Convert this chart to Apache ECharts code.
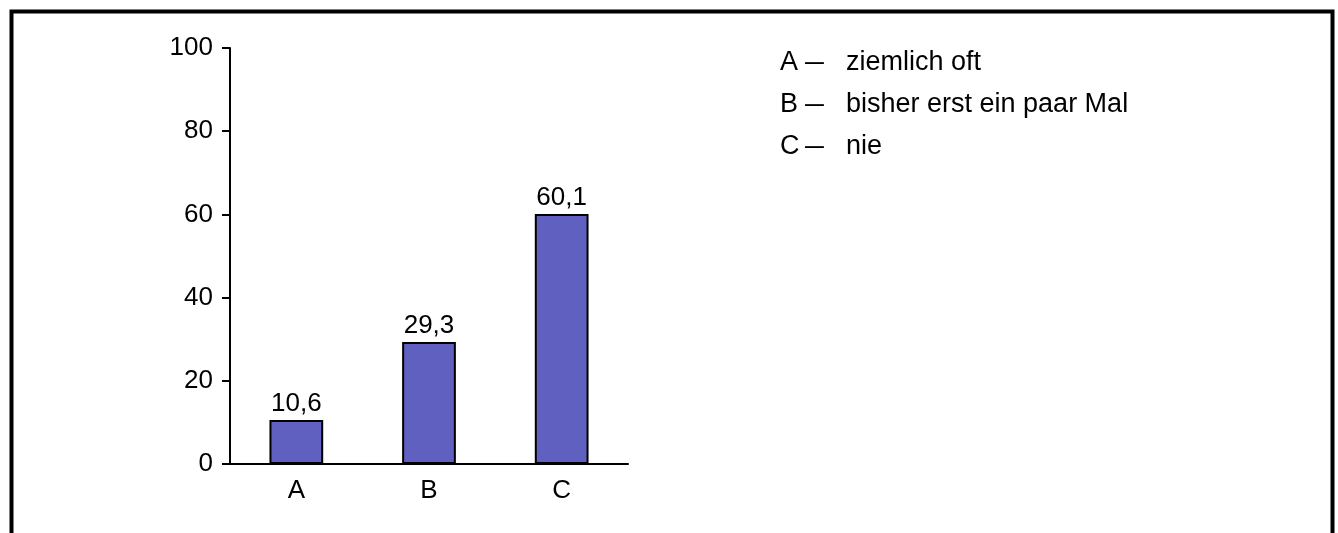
<!DOCTYPE html>
<html>
<head>
<meta charset="utf-8">
<script src="https://cdn.jsdelivr.net/npm/echarts@6/dist/echarts.min.js"></script>
<style>
html,body{margin:0;padding:0;background:#fff;}
#chart{width:1338px;height:533px;}
</style>
</head>
<body>
<div id="chart"></div>
<script>
const categories = ['A', 'B', 'C'];
const values = [10.6, 29.3, 60.1];
const descriptions = ['ziemlich oft', 'bisher erst ein paar Mal', 'nie'];
const yTicks = [0, 20, 40, 60, 80, 100];

const FONT = 'Liberation Sans, Arial, sans-serif';
const FS = 26;
const LFS = 27;
const chart = echarts.init(document.getElementById('chart'), null, {renderer: 'canvas'});

const legendGraphics = [];
categories.forEach((c, i) => {
  const y = 63 + i * 42;
  legendGraphics.push({
    type: 'text', x: 780, y: y,
    style: {text: c, font: LFS + 'px ' + FONT, fill: '#000', verticalAlign: 'middle'}
  });
  legendGraphics.push({
    type: 'text', x: 805, y: y, scaleX: 0.7,
    style: {text: '\u2014', font: LFS + 'px ' + FONT, fill: '#000', verticalAlign: 'middle'}
  });
  legendGraphics.push({
    type: 'text', x: 846, y: y,
    style: {text: descriptions[i], font: LFS + 'px ' + FONT, fill: '#000', verticalAlign: 'middle'}
  });
});

chart.setOption({
  animation: false,
  backgroundColor: '#fff',
  grid: {left: 230, right: 710, top: 48, bottom: 69, containLabel: false},
  xAxis: {
    type: 'category',
    data: categories,
    axisLine: {lineStyle: {color: '#000', width: 2}},
    axisTick: {show: false},
    axisLabel: {color: '#000', fontSize: FS, fontFamily: FONT, margin: 14}
  },
  yAxis: {
    type: 'value',
    min: yTicks[0], max: yTicks[yTicks.length - 1], interval: yTicks[1] - yTicks[0],
    splitLine: {show: false},
    axisLine: {show: true, lineStyle: {color: '#000', width: 2}},
    axisTick: {show: true, length: 8, lineStyle: {color: '#000', width: 2}},
    axisLabel: {color: '#000', fontSize: FS, fontFamily: FONT, margin: 17}
  },
  series: [{
    type: 'bar',
    data: values,
    barWidth: '40.5%',
    itemStyle: {color: '#6060C0', borderColor: '#000', borderWidth: 2},
    label: {
      show: true, position: 'top', distance: 3, color: '#000', fontSize: FS, fontFamily: FONT,
      formatter: p => String(p.value).replace('.', ',')
    }
  }],
  graphic: [
    {type: 'rect', left: 9, top: 9, shape: {x: 0, y: 0, width: 1321, height: 600},
     style: {fill: 'none', stroke: '#000', lineWidth: 4}, silent: true}
  ].concat(legendGraphics)
});
</script>
</body>
</html>
